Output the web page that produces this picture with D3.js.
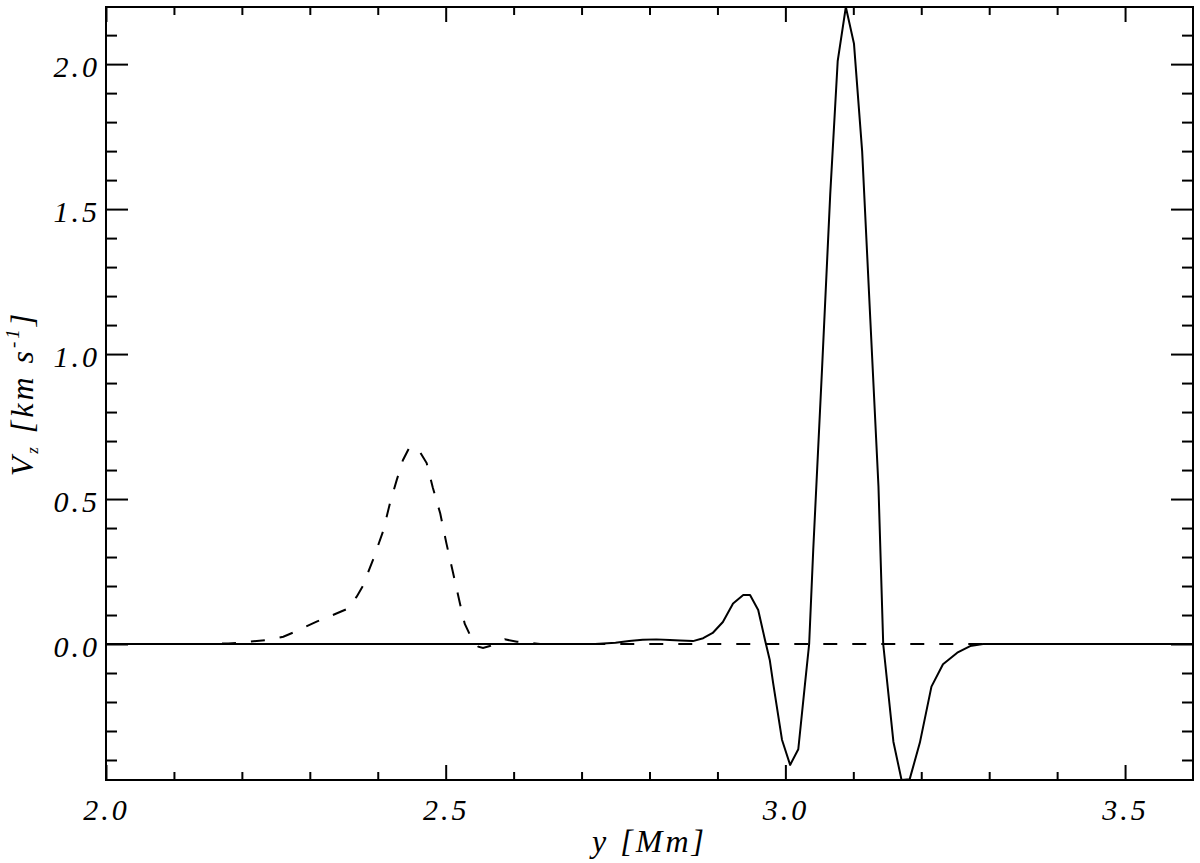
<!DOCTYPE html>
<html>
<head>
<meta charset="utf-8">
<script src="https://cdn.jsdelivr.net/npm/d3@7"></script>
<style>
  body { margin: 0; background: #fff; }
  text { font-family: "Liberation Serif", serif; font-style: italic; fill: #000; }
</style>
</head>
<body>
<script>
// solid curve
const solidX = [2.00, 2.60, 2.72, 2.75, 2.77, 2.79, 2.81, 2.83, 2.845, 2.864, 2.879, 2.893, 2.908, 2.923,
  2.938, 2.948, 2.960, 2.970, 2.977, 2.982, 2.995, 3.007, 3.019, 3.029, 3.035, 3.041, 3.054, 3.066,
  3.077, 3.089, 3.101, 3.113, 3.125, 3.137, 3.144, 3.159, 3.171, 3.183, 3.198, 3.215, 3.232, 3.253,
  3.272, 3.291, 3.60];
const solidV = [0, 0, 0, 0.004, 0.010, 0.015, 0.016, 0.014, 0.012, 0.010, 0.020, 0.038, 0.076, 0.140,
  0.169, 0.169, 0.117, 0.014, -0.055, -0.135, -0.330, -0.417, -0.363, -0.135, 0, 0.324, 0.95, 1.55,
  2.01, 2.197, 2.07, 1.70, 1.12, 0.545, 0, -0.337, -0.469, -0.466, -0.34, -0.147, -0.07, -0.03,
  -0.007, 0, 0];

// dashed curve
const dashX = [2.00, 2.15, 2.18, 2.20, 2.212, 2.237, 2.261, 2.275, 2.310, 2.340, 2.354, 2.369, 2.378,
  2.393, 2.408, 2.418, 2.428, 2.437, 2.447, 2.462, 2.472, 2.481, 2.492, 2.501, 2.511, 2.521, 2.528,
  2.536, 2.548, 2.555, 2.565, 2.587, 2.605, 2.639, 3.60];
const dashV = [0, 0, 0.002, 0.005, 0.008, 0.014, 0.025, 0.039, 0.077, 0.106, 0.120, 0.163, 0.200,
  0.290, 0.390, 0.486, 0.566, 0.634, 0.680, 0.663, 0.624, 0.540, 0.450, 0.348, 0.244, 0.140, 0.070,
  0.030, -0.009, -0.014, -0.007, 0.016, 0.008, 0, 0];

const xMajor = [2.0, 2.5, 3.0, 3.5];
const yMajor = [0.0, 0.5, 1.0, 1.5, 2.0];
const xDomain = [2.0, 3.6];
const yDomain = [-0.469, 2.197];

const width = 1200;
const height = 863;
const plotL = 106, plotR = 1193, plotT = 7, plotB = 780;

const x = d3.scaleLinear().domain(xDomain).range([plotL, plotR]);
const y = d3.scaleLinear().domain(yDomain).range([plotB, plotT]);

const xMinor = d3.range(21, 36).map(d => d / 10).filter(d => !xMajor.some(m => Math.abs(m - d) < 1e-6));
const yMinor = d3.range(-4, 22).map(d => d / 10).filter(d => !yMajor.some(m => Math.abs(m - d) < 1e-6));

const svg = d3.select("body").append("svg")
  .attr("width", width)
  .attr("height", height);

svg.append("clipPath").attr("id", "plot")
  .append("rect")
  .attr("x", plotL).attr("y", plotT)
  .attr("width", plotR - plotL).attr("height", plotB - plotT);

const fmt = d3.format(".1f");
const styleAxis = (g) => {
  g.select(".domain").remove();
  g.selectAll(".tick line").attr("stroke", "#000").attr("stroke-width", 2);
  g.selectAll(".tick text")
    .attr("font-family", null)
    .attr("font-size", null)
    .style("font-size", "30px")
    .style("letter-spacing", "3px");
};

// bottom
svg.append("g").attr("transform", `translate(0,${plotB})`)
  .call(d3.axisBottom(x).tickValues(xMajor).tickFormat(fmt).tickSize(-15).tickSizeOuter(0).tickPadding(19))
  .call(styleAxis);
svg.append("g").attr("transform", `translate(0,${plotB})`)
  .call(d3.axisBottom(x).tickValues(xMinor).tickFormat("").tickSize(-8).tickSizeOuter(0))
  .call(styleAxis);
// top
svg.append("g").attr("transform", `translate(0,${plotT})`)
  .call(d3.axisTop(x).tickValues(xMajor).tickFormat("").tickSize(-15).tickSizeOuter(0))
  .call(styleAxis);
svg.append("g").attr("transform", `translate(0,${plotT})`)
  .call(d3.axisTop(x).tickValues(xMinor).tickFormat("").tickSize(-8).tickSizeOuter(0))
  .call(styleAxis);
// left
svg.append("g").attr("transform", `translate(${plotL},0)`)
  .call(d3.axisLeft(y).tickValues(yMajor).tickFormat(fmt).tickSize(-22).tickSizeOuter(0).tickPadding(6))
  .call(styleAxis)
  .selectAll(".tick text").attr("dy", "0.42em");
svg.append("g").attr("transform", `translate(${plotL},0)`)
  .call(d3.axisLeft(y).tickValues(yMinor).tickFormat("").tickSize(-11).tickSizeOuter(0))
  .call(styleAxis);
// right
svg.append("g").attr("transform", `translate(${plotR},0)`)
  .call(d3.axisRight(y).tickValues(yMajor).tickFormat("").tickSize(-22).tickSizeOuter(0))
  .call(styleAxis);
svg.append("g").attr("transform", `translate(${plotR},0)`)
  .call(d3.axisRight(y).tickValues(yMinor).tickFormat("").tickSize(-11).tickSizeOuter(0))
  .call(styleAxis);

svg.append("rect")
  .attr("x", plotL).attr("y", plotT)
  .attr("width", plotR - plotL).attr("height", plotB - plotT)
  .attr("fill", "none").attr("stroke", "#000").attr("stroke-width", 2);

const line = d3.line().x(d => x(d[0])).y(d => y(d[1]));

const curves = svg.append("g").attr("clip-path", "url(#plot)");
curves.append("path")
  .datum(d3.zip(dashX, dashV))
  .attr("d", line)
  .attr("fill", "none").attr("stroke", "#000").attr("stroke-width", 2)
  .attr("stroke-dasharray", "14,15");
curves.append("path")
  .datum(d3.zip(solidX, solidV))
  .attr("d", line)
  .attr("fill", "none").attr("stroke", "#000").attr("stroke-width", 2)
  .attr("stroke-linejoin", "round");

// axis titles
svg.append("text")
  .attr("x", (plotL + plotR) / 2).attr("y", 852)
  .attr("text-anchor", "middle")
  .style("font-size", "32px").style("letter-spacing", "3px")
  .text("y [Mm]");

const yt = svg.append("text")
  .attr("transform", `translate(33,${(plotT + plotB) / 2}) rotate(-90)`)
  .attr("text-anchor", "middle")
  .style("font-size", "32px").style("letter-spacing", "3px");
yt.append("tspan").text("V");
yt.append("tspan").attr("dy", 5).style("font-size", "17px").text("z");
yt.append("tspan").attr("dy", -5).text(" [km s");
yt.append("tspan").attr("dy", -14).style("font-size", "19px").text("-1");
yt.append("tspan").attr("dy", 14).text("]");
</script>
</body>
</html>
